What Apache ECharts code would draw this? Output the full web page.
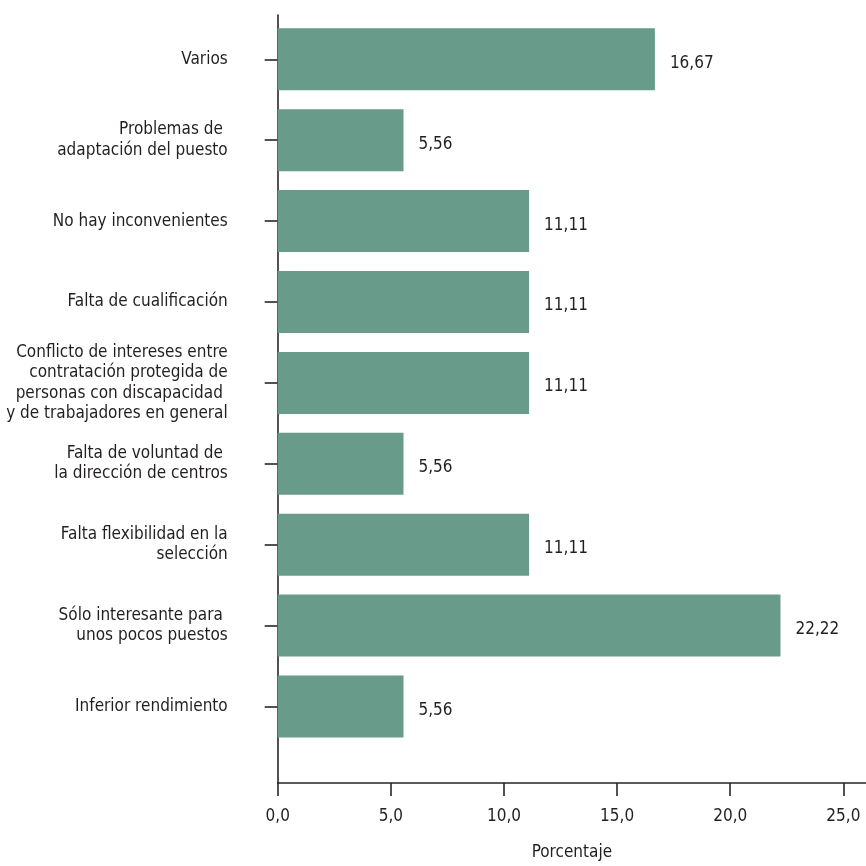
<!DOCTYPE html>
<html>
<head>
<meta charset="utf-8">
<script src="https://cdn.jsdelivr.net/npm/echarts@6/dist/echarts.min.js"></script>
<style>
html,body{margin:0;padding:0;background:#fff;}
#chart{width:866px;height:866px;}
</style>
</head>
<body>
<div id="chart"></div>
<script>
const categories = [
  'Varios',
  'Problemas de \nadaptación del puesto',
  'No hay inconvenientes',
  'Falta de cualificación',
  'Conflicto de intereses entre\ncontratación protegida de\npersonas con discapacidad \ny de trabajadores en general',
  'Falta de voluntad de \nla dirección de centros',
  'Falta flexibilidad en la\nselección',
  'Sólo interesante para \nunos pocos puestos',
  'Inferior rendimiento'
];
const values = [16.67, 5.56, 11.11, 11.11, 11.11, 5.56, 11.11, 22.22, 5.56];
const xTicks = [0, 5, 10, 15, 20, 25];
const xMax = 26;
const axisTitle = 'Porcentaje';

const FONT = '"Liberation Sans Narrow", "DejaVu Sans Condensed", "Arial Narrow", sans-serif';
const TXT = '#231f20';
const LINE = '#262626';
const comma = (v, d) => v.toFixed(d).replace('.', ',');

const chart = echarts.init(document.getElementById('chart'), null, {renderer: 'canvas'});
chart.setOption({
  backgroundColor: '#ffffff',
  animation: false,
  grid: [
    {left: 277.7, top: 18.85, width: 589.7, height: 728.1, containLabel: false},
    {left: 277.7, top: 15, width: 589.7, height: 772, containLabel: false}
  ],
  xAxis: [
    {gridIndex: 0, type: 'value', min: 0, max: xMax, show: false, splitLine: {show: false}},
    {
      gridIndex: 1, type: 'value', min: 0, max: xMax,
      name: axisTitle, nameLocation: 'middle', nameGap: 61,
      nameTextStyle: {fontFamily: FONT, fontSize: 17, color: TXT},
      axisLine: {show: true, lineStyle: {color: LINE, width: 1.6}},
      axisTick: {show: true, length: 13, customValues: xTicks, lineStyle: {color: LINE, width: 1.6}},
      axisLabel: {customValues: xTicks, margin: 25, fontFamily: FONT, fontSize: 17, color: TXT,
        formatter: v => comma(v, 1)},
      splitLine: {show: false}
    }
  ],
  yAxis: [
    {
      gridIndex: 0, type: 'category', data: categories, inverse: true,
      axisLine: {show: false},
      axisTick: {show: true, alignWithLabel: true, length: 13, lineStyle: {color: LINE, width: 1.6}},
      axisLabel: {margin: 50, fontFamily: FONT, fontSize: 17, color: TXT, lineHeight: 20.5, align: 'right'},
      splitLine: {show: false}
    },
    {
      gridIndex: 1, type: 'value', min: 0, max: 1,
      axisLine: {show: true, lineStyle: {color: LINE, width: 1.6}},
      axisTick: {show: false}, axisLabel: {show: false}, splitLine: {show: false}
    }
  ],
  series: [{
    type: 'bar', xAxisIndex: 0, yAxisIndex: 0,
    data: values, barWidth: 62,
    itemStyle: {color: '#689b89'},
    label: {show: true, position: 'right', distance: 15, offset: [0, 4],
      fontFamily: FONT, fontSize: 17, color: TXT,
      formatter: p => comma(p.value, 2)}
  }]
});
</script>
</body>
</html>
